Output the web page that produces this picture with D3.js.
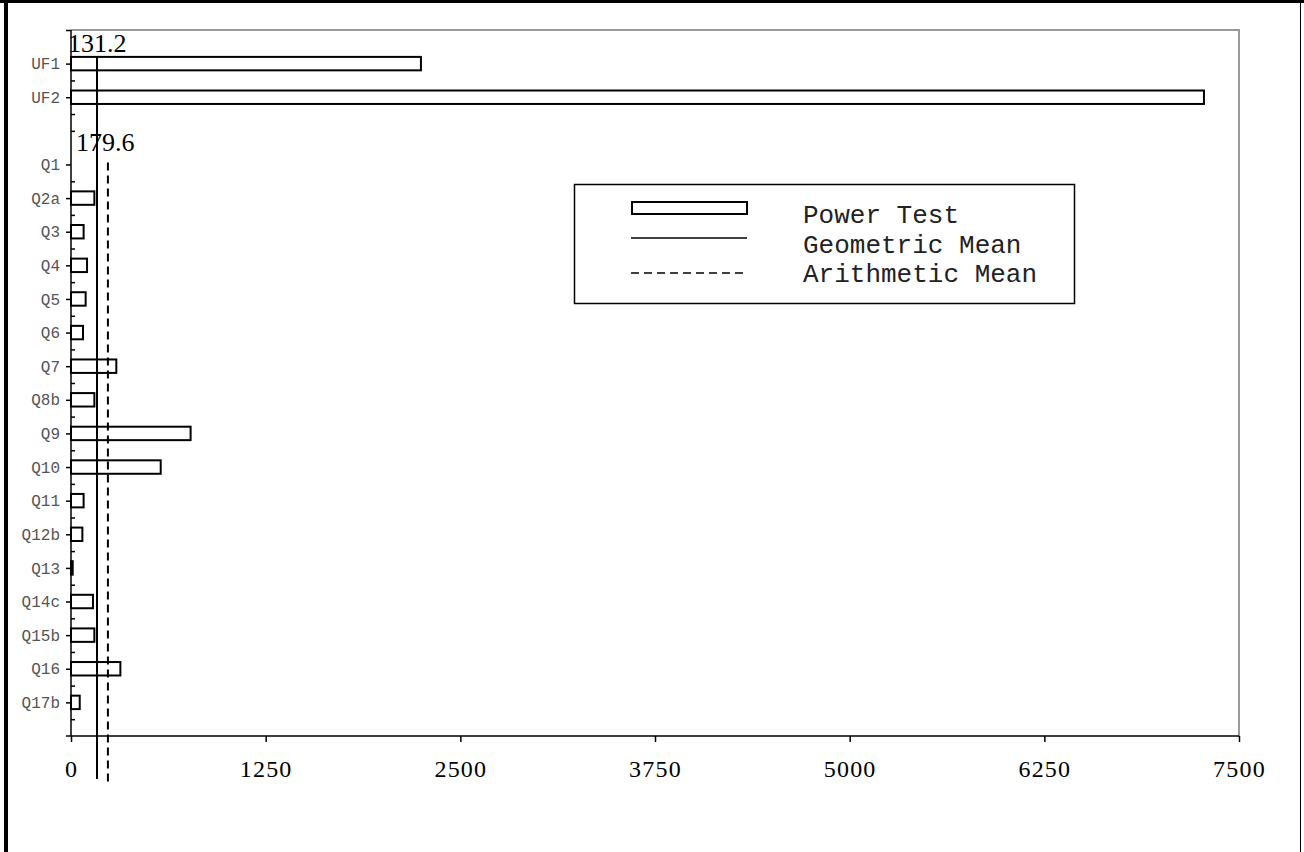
<!DOCTYPE html>
<html>
<head>
<meta charset="utf-8">
<script src="https://cdn.jsdelivr.net/npm/d3@7/dist/d3.min.js"></script>
<style>
  html, body { margin: 0; padding: 0; background: #fff; }
  svg { display: block; }
</style>
</head>
<body>
<svg id="chart" width="1304" height="852"></svg>
<script>
// ---- data ----
const categories = ["UF1", "UF2", " ", "Q1", "Q2a", "Q3", "Q4", "Q5", "Q6", "Q7", "Q8b", "Q9", "Q10",
                    "Q11", "Q12b", "Q13", "Q14c", "Q15b", "Q16", "Q17b"];
const powerTest = [2247, 7275, null, 0, 150, 81, 103, 94, 77, 291, 150, 768, 576,
                   81, 73, 11, 141, 150, 317, 56];
const xTicks = [0, 1250, 2500, 3750, 5000, 6250, 7500];
const geometricMean = [167];
const arithmeticMean = [237];
const meanLabels = ["131.2", "179.6"];
const legendLabels = ["Power Test", "Geometric Mean", "Arithmetic Mean"];

// ---- layout ----
const svg = d3.select("#chart");
const plot = { left: 71, right: 1239, top: 30, bottom: 736 };

const x = d3.scaleLinear().domain([0, 7500]).range([plot.left, plot.right]);
const y = d3.scalePoint().domain(categories).range([plot.top, plot.bottom]).padding(1);
const step = y.step();
const yIdx = d3.scaleLinear().domain([-1, categories.length]).range([plot.top, plot.bottom]);

// outer frame
svg.append("rect").attr("x", 4).attr("y", 0).attr("width", 4).attr("height", 852).attr("fill", "#000");
svg.append("rect").attr("x", 0).attr("y", 0).attr("width", 1304).attr("height", 3).attr("fill", "#000");
svg.append("line").attr("x1", 1300.5).attr("x2", 1300.5).attr("y1", 0).attr("y2", 852)
  .attr("stroke", "#000").attr("stroke-width", 1);

// gray plot border (top & right)
svg.append("path")
  .attr("d", `M${x(0)},${plot.top}H${x(7500)}V${plot.bottom}`)
  .attr("fill", "none").attr("stroke", "#999").attr("stroke-width", 2);

// bars
const barH = step * 0.4;
const rows = categories.map((c, i) => ({ c, v: powerTest[i] })).filter(d => d.v);
svg.append("g").selectAll("rect").data(rows).join("rect")
  .attr("x", x(0))
  .attr("y", d => y(d.c) - barH / 2)
  .attr("width", d => Math.max(0.5, x(d.v) - x(0)))
  .attr("height", barH)
  .attr("fill", "#fff")
  .attr("stroke", "#000")
  .attr("stroke-width", 2);

// y axis (major ticks with labels, pointing left)
const yAxis = d3.axisLeft(y).tickSize(5).tickSizeOuter(0).tickPadding(6);
const gy = svg.append("g").attr("transform", `translate(${plot.left},0)`).call(yAxis);
gy.select(".domain").remove();
gy.selectAll(".tick line").attr("stroke", "#000").attr("stroke-width", 1.5);
gy.selectAll(".tick text")
  .attr("font-family", "'Liberation Mono', 'DejaVu Sans Mono', monospace")
  .attr("font-size", 16).attr("fill", "#555");
gy.selectAll(".tick").filter(d => d.trim() === "").select("line").remove();

// minor ticks (inside)
const minorIdx = [0.5, 1.5, 2].concat(d3.range(3.5, categories.length, 1));
const gm = svg.append("g").attr("transform", `translate(${plot.left},0)`)
  .call(d3.axisRight(yIdx).tickValues(minorIdx).tickSize(4).tickFormat(""));
gm.select(".domain").remove();
gm.selectAll(".tick line").attr("stroke", "#000").attr("stroke-width", 1.5);
// top outer tick
const gt = svg.append("g").attr("transform", `translate(${plot.left},0)`)
  .call(d3.axisLeft(yIdx).tickValues([-1]).tickSize(5).tickFormat(""));
gt.select(".domain").remove();
gt.selectAll(".tick line").attr("stroke", "#000").attr("stroke-width", 1.5);

// y axis line
svg.append("line").attr("x1", plot.left).attr("x2", plot.left)
  .attr("y1", plot.top).attr("y2", plot.bottom)
  .attr("stroke", "#000").attr("stroke-width", 1.5);

// x axis
const xAxis = d3.axisBottom(x).tickValues(xTicks).tickFormat(d3.format("d"))
  .tickSize(6).tickSizeOuter(0).tickPadding(18);
const gx = svg.append("g").attr("transform", `translate(0,${plot.bottom})`).call(xAxis);
gx.select(".domain").remove();
gx.selectAll(".tick line").attr("stroke", "#000").attr("stroke-width", 1.5);
gx.selectAll(".tick text")
  .attr("font-family", "'Liberation Serif', 'Times New Roman', serif")
  .attr("font-size", 24).attr("letter-spacing", 1.2).attr("fill", "#000");
svg.append("line").attr("x1", x(0) - 5).attr("x2", x(7500))
  .attr("y1", plot.bottom).attr("y2", plot.bottom)
  .attr("stroke", "#000").attr("stroke-width", 1.5);

// mean lines
svg.append("line")
  .attr("x1", x(geometricMean[0])).attr("x2", x(geometricMean[0]))
  .attr("y1", y("UF1") - barH / 2).attr("y2", 779)
  .attr("stroke", "#000").attr("stroke-width", 2);
svg.append("line")
  .attr("x1", x(arithmeticMean[0])).attr("x2", x(arithmeticMean[0]))
  .attr("y1", y("Q1") - 2).attr("y2", 782)
  .attr("stroke", "#000").attr("stroke-width", 2).attr("stroke-dasharray", "8,5");

// mean value labels
svg.append("text").attr("x", x(0) - 3).attr("y", 52)
  .attr("font-family", "'Liberation Serif', 'Times New Roman', serif")
  .attr("font-size", 26).attr("fill", "#000").text(meanLabels[0]);
svg.append("text").attr("x", x(0) + 5).attr("y", 151)
  .attr("font-family", "'Liberation Serif', 'Times New Roman', serif")
  .attr("font-size", 26).attr("fill", "#000").text(meanLabels[1]);

// legend
const lg = svg.append("g");
lg.append("rect").attr("x", 574.5).attr("y", 184.5).attr("width", 500).attr("height", 119)
  .attr("fill", "#fff").attr("stroke", "#000").attr("stroke-width", 1.5);
lg.append("rect").attr("x", 632).attr("y", 202).attr("width", 115).attr("height", 12)
  .attr("fill", "#fff").attr("stroke", "#000").attr("stroke-width", 2);
lg.append("line").attr("x1", 631).attr("x2", 747).attr("y1", 238).attr("y2", 238)
  .attr("stroke", "#000").attr("stroke-width", 1.5);
lg.append("line").attr("x1", 631).attr("x2", 747).attr("y1", 273).attr("y2", 273)
  .attr("stroke", "#000").attr("stroke-width", 1.5).attr("stroke-dasharray", "8,5");
const ly = [223, 253, 282];
lg.selectAll("text.leg").data(legendLabels).join("text").attr("class", "leg")
  .attr("x", 803).attr("y", (d, i) => ly[i])
  .attr("font-family", "'Liberation Mono', 'DejaVu Sans Mono', monospace")
  .attr("font-size", 26).attr("fill", "#222")
  .attr("xml:space", "preserve")
  .style("white-space", "pre")
  .text(d => d);
</script>
</body>
</html>
